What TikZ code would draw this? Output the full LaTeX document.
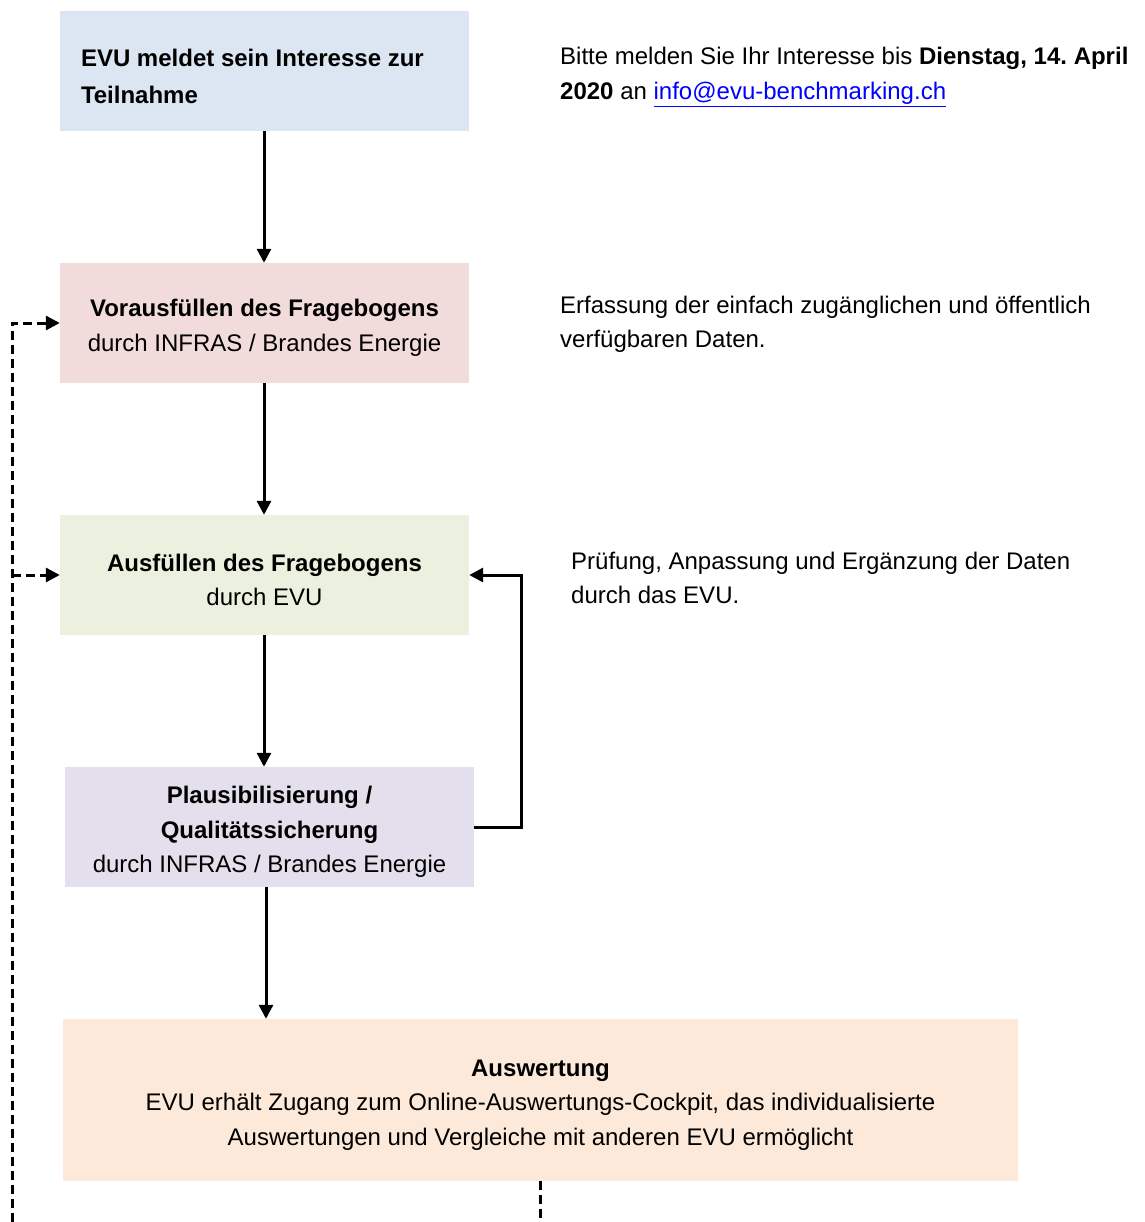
\documentclass[tikz,border=0pt]{standalone}
\usepackage{fontspec}
\setmainfont{Liberation Sans}
\usetikzlibrary{arrows.meta,calc}
\definecolor{cblue}{HTML}{DCE6F2}
\definecolor{cpink}{HTML}{F2DCDB}
\definecolor{cgreen}{HTML}{EBF1DE}
\definecolor{clav}{HTML}{E4DFEC}
\definecolor{cpeach}{HTML}{FDE9D9}
\definecolor{clink}{HTML}{0000FF}
\tikzset{
  stepbox/.style={inner sep=0pt, minimum width=409pt, minimum height=120pt},
  boxtext/.style={inner sep=0pt, align=center, yshift=-5pt,
    font=\fontsize{24}{34.5}\selectfont},
  arr/.style={line width=3pt, -{Triangle[length=14pt,width=14pt]}},
  darr/.style={line width=3pt, dash pattern=on 9pt off 5pt, -{Triangle[length=14pt,width=14pt]}},
  dline/.style={line width=3pt, dash pattern=on 9pt off 5pt},
  side/.style={anchor=base west, inner sep=0pt, font=\fontsize{24}{34.5}\selectfont},
}
\begin{document}
\frenchspacing
\begin{tikzpicture}[x=1pt,y=-1pt]
\useasboundingbox (0,0) rectangle (1144,1222);
\fill[white] (0,0) rectangle (1144,1222);

\node[stepbox, fill=cblue] (b1) at (264.5,71) {};
\node[stepbox, fill=cpink] (b2) at (264.5,323) {};
\node[stepbox, fill=cgreen] (b3) at (264.5,575) {};
\node[stepbox, fill=clav] (b4) at (269.5,827) {};
\node[stepbox, fill=cpeach, minimum width=955pt, minimum height=162pt] (b5) at (540.5,1100) {};

\node[boxtext, align=left, anchor=west, font=\fontsize{24}{37}\selectfont] (x1) at ([xshift=21pt]b1.west)
  {\textbf{EVU meldet sein Interesse zur}\\\textbf{Teilnahme}};
\node[boxtext] (x2) at (b2.center)
  {\textbf{Vorausfüllen des Fragebogens}\\durch INFRAS / Brandes Energie};
\node[boxtext] (x3) at (b3.center)
  {\textbf{Ausfüllen des Fragebogens}\\durch EVU};
\node[boxtext] (x4) at (b4.center)
  {\textbf{Plausibilisierung /}\\\textbf{Qualitätssicherung}\\durch INFRAS / Brandes Energie};
\node[boxtext] (x5) at (b5.center)
  {\textbf{Auswertung}\\EVU erhält Zugang zum Online-Auswertungs-Cockpit, das individualisierte\\Auswertungen und Vergleiche mit anderen EVU ermöglicht};

% side texts
\node[side] (t1a) at (560,65) {Bitte melden Sie Ihr Interesse bis \textbf{Dienstag, 14. April}};
\node[side] (t1b) at (560,100) {\textbf{2020} an \textcolor{clink}{\underline{info@evu-benchmarking.ch}}};
\node[side] (t2a) at (560,313) {Erfassung der einfach zugänglichen und öffentlich};
\node[side] (t2b) at (560,347) {verfügbaren Daten.};
\node[side] (t3a) at (571,569) {Prüfung, Anpassung und Ergänzung der Daten};
\node[side] (t3b) at (571,603) {durch das EVU.};

% solid arrows
\draw[arr] ([xshift=-0.5pt]b1.south) -- ([xshift=-0.5pt]b2.north);
\draw[arr] ([xshift=-0.5pt]b2.south) -- ([xshift=-0.5pt]b3.north);
\draw[arr] ([xshift=-0.5pt]b3.south) -- ([xshift=-0.5pt]b4.north -| b3.south);
\draw[arr] ([xshift=-3.5pt]b4.south) -- ([xshift=-3.5pt]b4.south |- b5.north);
\draw[arr] (b4.east) -- ++(47,0) |- (b3.east);

% dashed feedback
\coordinate (lb) at (12,1222);
\coordinate (bb) at (540,1222);
\draw[darr] (lb) |- (b2.west);
\draw[darr] (lb |- b3.west) -- (b3.west);
\draw[dline] (bb |- b5.south) -- (bb);
\end{tikzpicture}
\end{document}
